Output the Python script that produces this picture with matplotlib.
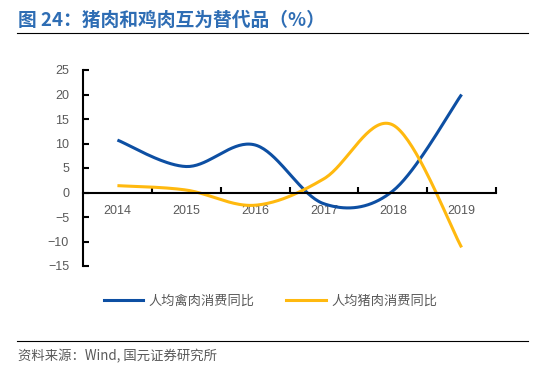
import numpy as np
import matplotlib
matplotlib.use('Agg')
import matplotlib.pyplot as plt
from matplotlib.lines import Line2D

plt.rcParams['font.family'] = ['Liberation Sans', 'Noto Sans CJK SC', 'DejaVu Sans']

years = ['2014', '2015', '2016', '2017', '2018', '2019']
poultry = [10.7, 5.3, 9.7, -2.3, 0.3, 20.0]
pork = [1.4, 0.5, -2.6, 2.8, 13.8, -11.2]

blue = '#0D4FA3'
yellow = '#FFB90F'
grey = '#595959'
cjk = ['Noto Sans CJK SC', 'DejaVu Sans']


def smooth(y, n=40):
    # Excel-style smoothed line: cubic Bezier with control points from neighbours
    y = np.asarray(y, dtype=float)
    x = np.arange(len(y), dtype=float)
    px, py = [], []
    for i in range(len(y) - 1):
        i0 = max(i - 1, 0)
        i3 = min(i + 2, len(y) - 1)
        p0 = np.array([x[i], y[i]])
        p3 = np.array([x[i + 1], y[i + 1]])
        p1 = p0 + (p3 - np.array([x[i0], y[i0]])) / 6
        p2 = p3 - (np.array([x[i3], y[i3]]) - p0) / 6
        t = np.linspace(0, 1, n)[:, None]
        pts = ((1 - t) ** 3) * p0 + 3 * ((1 - t) ** 2) * t * p1 + 3 * (1 - t) * t ** 2 * p2 + t ** 3 * p3
        px.extend(pts[:, 0])
        py.extend(pts[:, 1])
    return np.array(px), np.array(py)


fig = plt.figure(figsize=(5.41, 3.83), dpi=100)
ax = fig.add_axes([83 / 541, 1 - 266 / 383, (496 - 83) / 541, (266 - 70) / 383])

xs, ys = smooth(poultry)
ax.plot(xs, ys, color=blue, lw=2.2, solid_capstyle='butt')
xs, ys = smooth(pork)
ax.plot(xs, ys, color=yellow, lw=2.2, solid_capstyle='butt')

ax.set_xlim(-0.5, 5.5)
ax.set_ylim(-15, 25)
ax.set_yticks(range(-15, 26, 5))

ax.spines['top'].set_visible(False)
ax.spines['right'].set_visible(False)
ax.spines['bottom'].set_position(('data', 0))
ax.spines['bottom'].set_linewidth(1.5)
ax.spines['left'].set_linewidth(1.5)

ax.set_xticks(range(len(years)))
ax.set_xticklabels(years)
ax.set_xticks(np.arange(0.5, 6, 1), minor=True)
ax.tick_params(axis='x', which='major', length=0, pad=9, labelsize=9, labelcolor=grey)
ax.tick_params(axis='x', which='minor', direction='in', length=4, width=1.5)
ax.tick_params(axis='y', direction='in', length=4, width=1.5, labelsize=9, labelcolor=grey, pad=10)

# title and rules
fig.text(18 / 541, 1 - 20 / 383, '图 24：猪肉和鸡肉互为替代品（%）', fontsize=13.5, fontweight='bold',
         color='#2E6DB4', va='center', ha='left', family=cjk)
fig.add_artist(Line2D([17 / 541, 528 / 541], [1 - 33 / 383] * 2, color='black', lw=0.8))
fig.add_artist(Line2D([17 / 541, 528 / 541], [1 - 341 / 383] * 2, color='black', lw=0.8))
fig.text(18 / 541, 1 - 356 / 383, '资料来源：Wind, 国元证券研究所', fontsize=9.6, color=grey,
         va='center', ha='left', family=cjk)

handles = [Line2D([], [], color=blue, lw=2.2), Line2D([], [], color=yellow, lw=2.2)]
fig.legend(handles, ['人均禽肉消费同比', '人均猪肉消费同比'], loc='center', ncol=2,
           bbox_to_anchor=(0.5, 1 - 301 / 383), frameon=False, handlelength=3.0,
           columnspacing=2.4, handletextpad=0.4,
           prop={'family': cjk, 'size': 9.5}, labelcolor=grey)

fig.savefig('out.png', dpi=100)
